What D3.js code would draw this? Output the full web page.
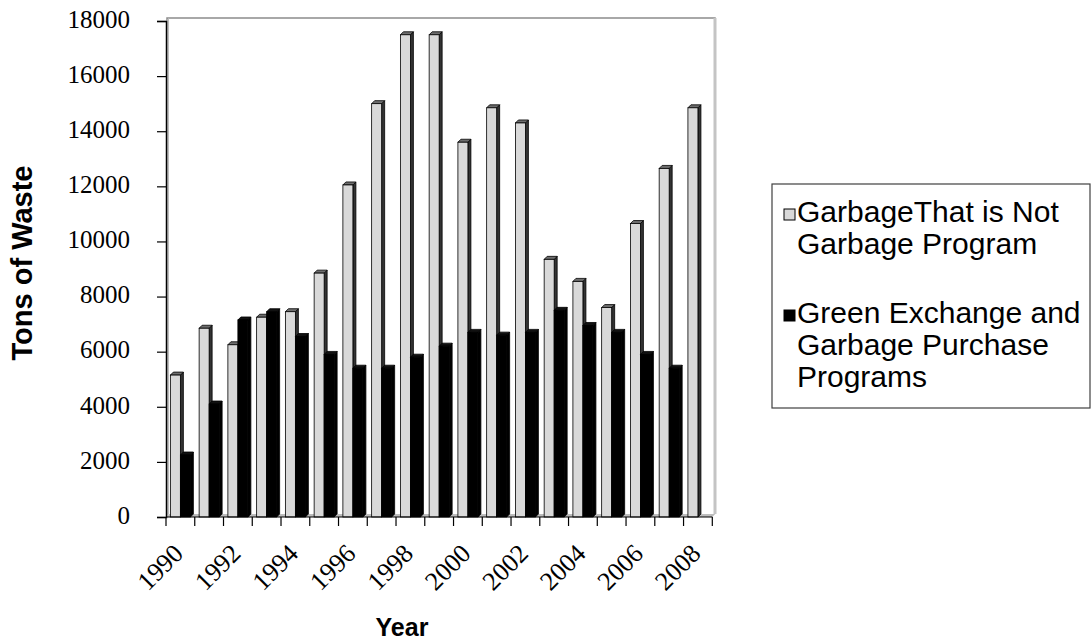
<!DOCTYPE html>
<html><head><meta charset="utf-8">
<script src="https://cdn.jsdelivr.net/npm/d3@7"></script>
<style>body{margin:0;background:#fff}svg{display:block}</style>
</head><body>
<svg id="chart" width="1091" height="641"></svg>
<script>
const years = ["1990","1991","1992","1993","1994","1995","1996","1997","1998","1999","2000","2001","2002","2003","2004","2005","2006","2007","2008"];
const tickLabels = ["1990","1992","1994","1996","1998","2000","2002","2004","2006","2008"];
const seriesNames = ["GarbageThat is Not Garbage Program","Green Exchange and Garbage Purchase Programs"];
const garbageNotGarbage = [5150,6850,6250,7250,7450,8850,12050,15000,17500,17500,13600,14850,14300,9350,8550,7600,10650,12650,14850];
const greenExchange = [2250,4100,7150,7450,6550,5900,5400,5400,5800,6200,6700,6600,6700,7500,6950,6700,5900,5400,null];
const yTicks = [0,2000,4000,6000,8000,10000,12000,14000,16000,18000];
const legendLines = [["GarbageThat is Not","Garbage Program"],["Green Exchange and","Garbage Purchase","Programs"]];

const svg = d3.select("#chart");
const D = 3; // 3D depth
const x0 = d3.scaleBand().domain(years).range([166, 712.3]).padding(0);
const x1 = d3.scaleBand().domain(seriesNames).range([0, x0.bandwidth()]).paddingInner(0).paddingOuter(0.4375);
const y = d3.scaleLinear().domain([0, 18000]).range([517, 21]);

// back wall and side wall
const g = svg.append("g");
g.append("path").attr("d", `M167,${y(0)-D}L167,18L715,18L715,${y(0)-D}`).attr("fill","none").attr("stroke","#8c8c8c").attr("stroke-width",1.5);
g.append("line").attr("x1",715).attr("x2",715).attr("y1",18).attr("y2",y(0)-D).attr("stroke","#c4c4c4").attr("stroke-width",3);
g.append("path").attr("d",`M166,${y(0)}L166,21L169,18L169,${y(0)-D}Z`).attr("fill","#bdbdbd");
// floor
g.append("path").attr("d",`M166,${y(0)}L712.3,${y(0)}L715.3,${y(0)-D}L169,${y(0)-D}Z`).attr("fill","#bdbdbd");

const colors = {
  [seriesNames[0]]: {front:"#d9d9d9", side:"#333333", top:"#6e6e6e", stroke:"#000"},
  [seriesNames[1]]: {front:"#000", side:"#000", top:"#111", stroke:"#000"}
};
const data = [];
years.forEach((yr,i) => {
  data.push({year:yr, s:seriesNames[0], v:garbageNotGarbage[i]});
  if (greenExchange[i] != null) data.push({year:yr, s:seriesNames[1], v:greenExchange[i]});
});
const bars = svg.append("g").selectAll("g").data(data).join("g");
bars.each(function(d){
  const sel = d3.select(this);
  const xl = x0(d.year) + x1(d.s), w = x1.bandwidth(), yt = y(d.v), yb = y(0);
  const c = colors[d.s];
  sel.append("path").attr("d",`M${xl+w},${yb}L${xl+w+D},${yb-D}L${xl+w+D},${yt-D}L${xl+w},${yt}Z`).attr("fill",c.side).attr("stroke",c.stroke).attr("stroke-width",0.8);
  sel.append("path").attr("d",`M${xl},${yt}L${xl+w},${yt}L${xl+w+D},${yt-D}L${xl+D},${yt-D}Z`).attr("fill",c.top).attr("stroke",c.stroke).attr("stroke-width",0.8);
  sel.append("rect").attr("x",xl).attr("y",yt).attr("width",w).attr("height",yb-yt).attr("fill",c.front).attr("stroke",c.stroke).attr("stroke-width",0.8);
});

// y axis
const yAxis = svg.append("g").attr("transform","translate(166,0)")
  .call(d3.axisLeft(y).tickValues(yTicks).tickFormat(d3.format("d")).tickSize(9).tickPadding(27));
yAxis.select(".domain").attr("stroke","#000").attr("stroke-width",1.5);
yAxis.selectAll(".tick line").attr("stroke","#000").attr("stroke-width",1.2);
yAxis.selectAll("text").attr("font-family","'Liberation Serif','Times New Roman',serif").attr("font-size",25).attr("fill","#000").attr("dy","0.25em");

// x axis
const xAxisG = svg.append("g");
xAxisG.append("line").attr("x1",166).attr("x2",712.3).attr("y1",y(0)).attr("y2",y(0)).attr("stroke","#000").attr("stroke-width",1.2);
const bounds = years.map(d => x0(d)).concat([x0(years[years.length-1]) + x0.bandwidth()]);
xAxisG.selectAll("line.tk").data(bounds).join("line").attr("class","tk")
  .attr("x1",d=>d).attr("x2",d=>d).attr("y1",y(0)).attr("y2",y(0)+9).attr("stroke","#000").attr("stroke-width",1.2);
xAxisG.selectAll("text").data(tickLabels).join("text")
  .attr("transform", d => `translate(${x0(d)+x0.bandwidth()-10},${y(0)+38}) rotate(-45)`)
  .attr("text-anchor","end")
  .attr("font-family","'Liberation Serif','Times New Roman',serif").attr("font-size",26).attr("fill","#000")
  .text(d=>d);

// axis titles
svg.append("text").attr("transform","translate(32,263) rotate(-90)").attr("text-anchor","middle")
  .attr("font-family","'Liberation Sans',Arial,sans-serif").attr("font-weight","bold").attr("font-size",29).text("Tons of Waste");
svg.append("text").attr("x",402).attr("y",636).attr("text-anchor","middle")
  .attr("font-family","'Liberation Sans',Arial,sans-serif").attr("font-weight","bold").attr("font-size",25).text("Year");

// legend
const lg = svg.append("g");
lg.append("rect").attr("x",772).attr("y",184).attr("width",318).attr("height",224).attr("fill","#fff").attr("stroke","#404040").attr("stroke-width",1.2);
const legendItems = [{name:seriesNames[0], lines:legendLines[0], top:222, fill:"#d9d9d9"},{name:seriesNames[1], lines:legendLines[1], top:323, fill:"#000"}];
legendItems.forEach(it => {
  lg.append("rect").attr("x",784).attr("y",it.top-13).attr("width",11).attr("height",11).attr("fill",it.fill).attr("stroke","#000").attr("stroke-width",1);
  const t = lg.append("text").attr("font-family","'Liberation Sans',Arial,sans-serif").attr("font-size",30).attr("fill","#000");
  it.lines.forEach((ln,k) => t.append("tspan").attr("x",797).attr("y",it.top + k*32).text(ln));
});
</script>
</body></html>
